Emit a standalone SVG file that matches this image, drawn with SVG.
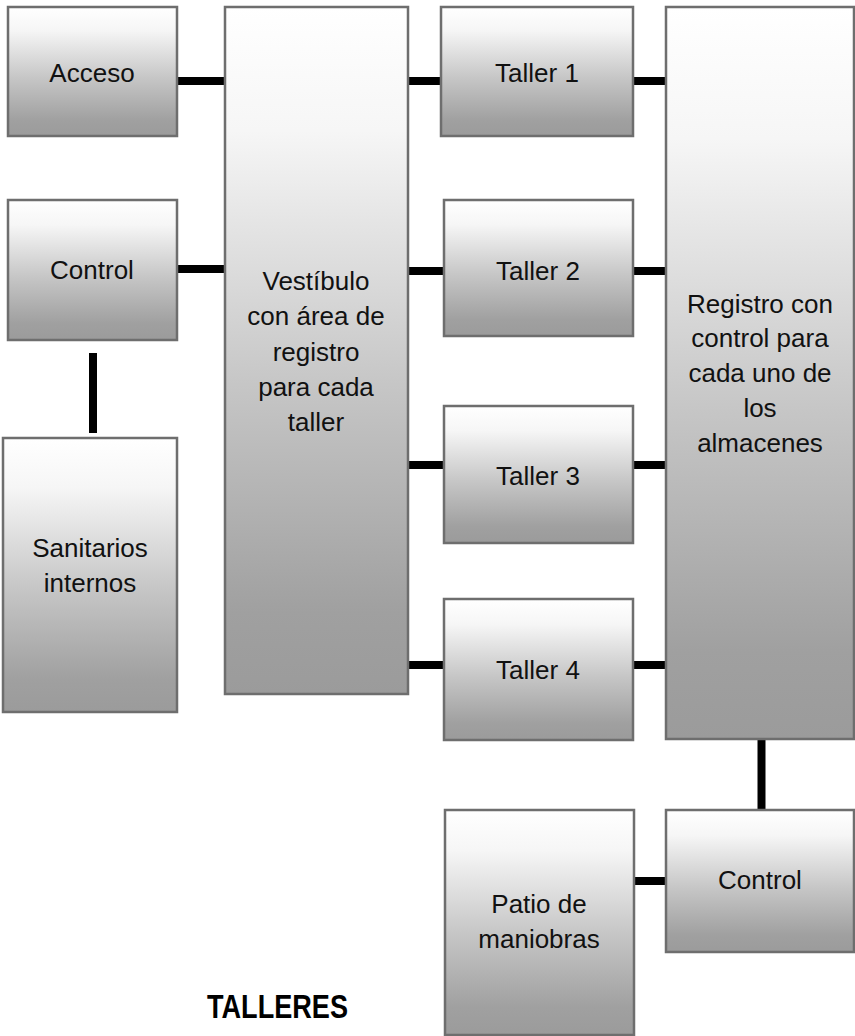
<svg xmlns="http://www.w3.org/2000/svg" width="855" height="1036" viewBox="0 0 855 1036">
  <defs>
    <linearGradient id="boxFill" x1="0" y1="0" x2="0" y2="1">
      <stop offset="0" stop-color="#ffffff"/>
      <stop offset="0.18" stop-color="#f6f6f6"/>
      <stop offset="0.55" stop-color="#c6c6c6"/>
      <stop offset="0.88" stop-color="#a0a0a0"/>
      <stop offset="1" stop-color="#9b9b9b"/>
    </linearGradient>
  </defs>
  <style>
    .box { fill: url(#boxFill); stroke: #6e6e6e; stroke-width: 2.5; }
    .lbl { font-family: "Liberation Sans", Arial, sans-serif; font-size: 26px; fill: #111; text-anchor: middle; }
    .title { font-family: "Liberation Sans", Arial, sans-serif; font-size: 34px; font-weight: bold; fill: #000; }
    .wire { stroke: #000; stroke-width: 8; fill: none; }
  </style>

  <!-- connectors -->
  <g id="connectors">
    <line class="wire" x1="177" y1="81" x2="224" y2="81"/>
    <line class="wire" x1="177" y1="269" x2="224" y2="269"/>
    <line class="wire" x1="93" y1="353" x2="93" y2="433"/>
    <line class="wire" x1="408" y1="81" x2="441" y2="81"/>
    <line class="wire" x1="408" y1="271" x2="444" y2="271"/>
    <line class="wire" x1="408" y1="465" x2="444" y2="465"/>
    <line class="wire" x1="408" y1="665" x2="444" y2="665"/>
    <line class="wire" x1="633" y1="81" x2="665" y2="81"/>
    <line class="wire" x1="633" y1="271" x2="665" y2="271"/>
    <line class="wire" x1="633" y1="465" x2="665" y2="465"/>
    <line class="wire" x1="633" y1="665" x2="665" y2="665"/>
    <line class="wire" x1="761.5" y1="735" x2="761.5" y2="814"/>
    <line class="wire" x1="633" y1="881" x2="665" y2="881"/>
  </g>

  <g id="acceso">
    <rect class="box" x="8" y="7" width="169" height="129"/>
    <text class="lbl" x="92" y="82">Acceso</text>
  </g>

  <g id="control-entrada">
    <rect class="box" x="8" y="200" width="169" height="140"/>
    <text class="lbl" x="92" y="279">Control</text>
  </g>

  <g id="sanitarios">
    <rect class="box" x="3" y="438" width="174" height="274"/>
    <text class="lbl" x="90" y="557">Sanitarios</text>
    <text class="lbl" x="90" y="592">internos</text>
  </g>

  <g id="vestibulo">
    <rect class="box" x="225" y="7" width="183" height="687"/>
    <text class="lbl" x="316" y="290">Vestíbulo</text>
    <text class="lbl" x="316" y="325">con área de</text>
    <text class="lbl" x="316" y="361">registro</text>
    <text class="lbl" x="316" y="396">para cada</text>
    <text class="lbl" x="316" y="431">taller</text>
  </g>

  <g id="taller-1">
    <rect class="box" x="441" y="7" width="192" height="129"/>
    <text class="lbl" x="537" y="82">Taller 1</text>
  </g>

  <g id="taller-2">
    <rect class="box" x="444" y="200" width="189" height="136"/>
    <text class="lbl" x="538" y="280">Taller 2</text>
  </g>

  <g id="taller-3">
    <rect class="box" x="444" y="406" width="189" height="137"/>
    <text class="lbl" x="538" y="485">Taller 3</text>
  </g>

  <g id="taller-4">
    <rect class="box" x="444" y="599" width="189" height="141"/>
    <text class="lbl" x="538" y="679">Taller 4</text>
  </g>

  <g id="registro-almacenes">
    <rect class="box" x="666" y="7" width="188" height="732"/>
    <text class="lbl" x="760" y="313">Registro con</text>
    <text class="lbl" x="760" y="347">control para</text>
    <text class="lbl" x="760" y="382">cada uno de</text>
    <text class="lbl" x="760" y="417">los</text>
    <text class="lbl" x="760" y="452">almacenes</text>
  </g>

  <g id="control-patio">
    <rect class="box" x="666" y="810" width="188" height="142"/>
    <text class="lbl" x="760" y="889">Control</text>
  </g>

  <g id="patio-maniobras">
    <rect class="box" x="445" y="810" width="189" height="225"/>
    <text class="lbl" x="539" y="913">Patio de</text>
    <text class="lbl" x="539" y="948">maniobras</text>
  </g>

  <text class="title" x="207" y="1018" textLength="141" lengthAdjust="spacingAndGlyphs">TALLERES</text>
</svg>
